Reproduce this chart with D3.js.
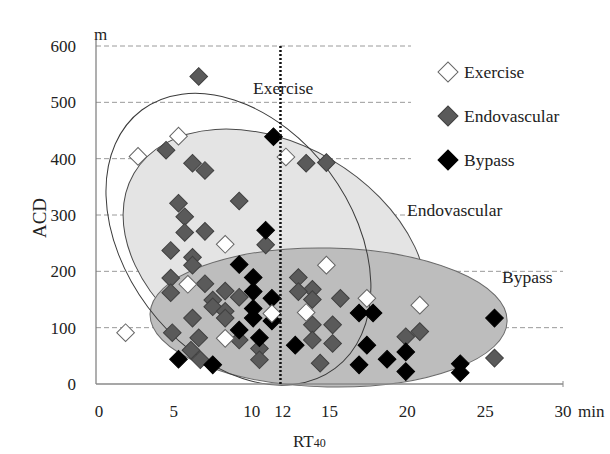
<!DOCTYPE html>
<html>
<head>
<meta charset="utf-8">
<script src="https://cdn.jsdelivr.net/npm/d3@7"></script>
<style>
    body { margin: 0; background: #fff; }
    svg { display: block; font-family: "Liberation Serif", "DejaVu Serif", "Times New Roman", serif; }
</style>
</head>
<body>
<svg width="610" height="454"></svg>
<script>
// --- DATA ---
const seriesNames = ['Exercise', 'Endovascular', 'Bypass'];

const exerciseX = [2.7, 5.3, 1.9, 8.3, 5.9, 8.3, 11.3, 13.5, 14.8, 17.4, 20.8, 12.2];
const exerciseY = [404, 440, 91, 248, 177, 81, 125, 127, 211, 152, 140, 403];

const endoX = [6.6, 4.5, 6.2, 7.0, 5.3, 9.2, 5.7, 5.7, 7.0, 4.8, 6.2, 6.2, 4.8, 7.0, 4.8,
    8.3, 7.5, 9.2, 7.5, 8.3, 8.3, 6.2, 4.9, 6.6, 9.2, 10.5, 6.1, 6.7, 10.5, 10.9,
    13.0, 13.9, 13.0, 13.9, 15.7, 13.9, 15.2, 13.9, 15.2, 14.4, 19.9, 20.8, 13.5, 14.8, 25.6];
const endoY = [546, 415, 392, 379, 321, 325, 297, 269, 271, 237, 225, 211, 188, 178, 162,
    165, 149, 154, 137, 129, 117, 117, 91, 82, 78, 63, 60, 43, 43, 247,
    189, 168, 164, 150, 152, 105, 105, 78, 72, 37, 84, 93, 392, 393, 46];

const bypassX = [11.4, 10.9, 9.2, 10.1, 10.1, 11.3, 10.1, 10.1, 11.3, 9.2, 10.5, 7.5,
    5.3, 12.8, 16.9, 17.8, 17.4, 19.9, 18.7, 16.9, 19.9, 25.6, 23.4, 23.4];
const bypassY = [439, 273, 212, 189, 164, 152, 134, 117, 112, 96, 82, 34,
    44, 69, 126, 126, 69, 57, 44, 34, 22, 117, 36, 20];

// ellipses in data units: centre, half extents, and tilt as a correlation
const ellipseCx = [9.15, 11.5, 14.94];
const ellipseCy = [257, 227, 118];
const ellipseHx = [8.51, 9.76, 11.47];
const ellipseHy = [259, 225.5, 123.4];
const ellipseR = [-0.328, -0.323, -0.045];

const xTicks = [0, 5, 10, 12, 15, 20, 25, 30];
const yTicks = [0, 100, 200, 300, 400, 500, 600];
const gridValues = [100, 200, 300, 400, 500, 600];
const refLineX = 11.85;

// --- SETUP ---
const svg = d3.select('svg');
const x = d3.scaleLinear().domain([0, 30]).range([96, 563]);
const y = d3.scaleLinear().domain([0, 600]).range([384, 46]);
const kx = (x(30) - x(0)) / 30;
const ky = (y(0) - y(600)) / 600;

// --- GRID ---
svg.append('g')
    .selectAll('line')
    .data(gridValues)
    .enter().append('line')
    .attr('x1', x(0)).attr('x2', x(30))
    .attr('y1', d => y(d)).attr('y2', d => y(d))
    .attr('stroke', '#9a9a9a')
    .attr('stroke-width', 1)
    .attr('stroke-dasharray', '5,3');

// legend box hides the upper grid on the right
svg.append('rect')
    .attr('x', 411).attr('y', 38)
    .attr('width', 160).attr('height', 184)
    .attr('fill', '#fff');

// --- ELLIPSES ---
function ellipseShape(i) {
    const H = ellipseHx[i] * kx;
    const V = ellipseHy[i] * ky;
    const sxy = -ellipseR[i] * H * V;
    const m = (H * H + V * V) / 2;
    const d = Math.sqrt(((H * H - V * V) / 2) ** 2 + sxy * sxy);
    const l1 = m + d, l2 = m - d;
    const angle = Math.atan2(l1 - H * H, sxy || 1) * 180 / Math.PI;
    return { cx: x(ellipseCx[i]), cy: y(ellipseCy[i]), rx: Math.sqrt(l1), ry: Math.sqrt(l2), angle: sxy ? angle : 0 };
}

const ellipseStyle = [
    { fill: 'none', stroke: '#3a3a3a' },
    { fill: '#e4e4e4', stroke: '#4a4a4a' },
    { fill: '#bdbdbd', stroke: '#6a6a6a' }
];

[1, 2, 0].forEach(i => {
    const e = ellipseShape(i);
    svg.append('ellipse')
        .attr('transform', `translate(${e.cx},${e.cy}) rotate(${e.angle})`)
        .attr('rx', e.rx).attr('ry', e.ry)
        .attr('fill', ellipseStyle[i].fill)
        .attr('stroke', ellipseStyle[i].stroke)
        .attr('stroke-width', 1);
});

// --- AXES ---
svg.append('line')
    .attr('x1', x(0)).attr('x2', x(0))
    .attr('y1', y(0)).attr('y2', 40)
    .attr('stroke', '#7a7a7a').attr('stroke-width', 1.2);
svg.append('line')
    .attr('x1', x(0)).attr('x2', x(30))
    .attr('y1', y(0)).attr('y2', y(0))
    .attr('stroke', '#8a8a8a').attr('stroke-width', 1.6);
svg.append('line')
    .attr('x1', x(30)).attr('x2', x(30))
    .attr('y1', y(0) - 3).attr('y2', y(0) + 3)
    .attr('stroke', '#8a8a8a').attr('stroke-width', 1);

svg.append('g')
    .selectAll('text')
    .data(yTicks)
    .enter().append('text')
    .attr('x', 76)
    .attr('y', d => y(d) + 6)
    .attr('text-anchor', 'end')
    .attr('font-size', 17)
    .attr('fill', '#222')
    .text(d => d);

svg.append('g')
    .selectAll('text')
    .data(xTicks)
    .enter().append('text')
    .attr('x', d => x(d) + (d === 0 ? 3 : 0))
    .attr('y', 417)
    .attr('text-anchor', 'middle')
    .attr('font-size', 17)
    .attr('fill', '#222')
    .text(d => d);

svg.append('text').attr('x', 578).attr('y', 417).attr('font-size', 17).attr('fill', '#222').text('min');
svg.append('text').attr('x', 94).attr('y', 40).attr('font-size', 17).attr('fill', '#222').text('m');

svg.append('text')
    .attr('transform', 'translate(46,218) rotate(-90)')
    .attr('text-anchor', 'middle')
    .attr('font-size', 19)
    .attr('fill', '#222')
    .text('ACD');

const rt = svg.append('text').attr('x', 293).attr('y', 447).attr('font-size', 17).attr('fill', '#222');
rt.append('tspan').text('RT');
rt.append('tspan').attr('font-size', 12).text('40');

// --- POINTS ---
const diamond = d3.symbol().type(d3.symbolSquare).size(156);
const legendDiamond = d3.symbol().type(d3.symbolSquare).size(200);
const pointStyle = [
    { fill: '#ffffff', stroke: '#666666' },
    { fill: '#5a5a5a', stroke: '#404040' },
    { fill: '#000000', stroke: '#000000' }
];
const seriesX = [exerciseX, endoX, bypassX];
const seriesY = [exerciseY, endoY, bypassY];

[1, 2, 0].forEach(i => {
    svg.append('g')
        .selectAll('path')
        .data(d3.range(seriesX[i].length))
        .enter().append('path')
        .attr('d', diamond)
        .attr('transform', j => `translate(${x(seriesX[i][j])},${y(seriesY[i][j])}) rotate(45)`)
        .attr('fill', pointStyle[i].fill)
        .attr('stroke', pointStyle[i].stroke)
        .attr('stroke-width', 1);
});

// --- REFERENCE LINE ---
svg.append('line')
    .attr('x1', x(refLineX)).attr('x2', x(refLineX))
    .attr('y1', y(600)).attr('y2', y(0))
    .attr('stroke', '#111')
    .attr('stroke-width', 2.5)
    .attr('stroke-dasharray', '2,2');

// --- LABELS ---
svg.append('text').attr('x', 253).attr('y', 94).attr('font-size', 17.5).attr('fill', '#222').text('Exercise');
svg.append('text').attr('x', 407).attr('y', 216).attr('font-size', 17.5).attr('fill', '#222').text('Endovascular');
svg.append('text').attr('x', 502).attr('y', 283).attr('font-size', 17.5).attr('fill', '#222').text('Bypass');

// --- LEGEND ---
const legendY = [72, 116, 160];
seriesNames.forEach((name, i) => {
    svg.append('path')
        .attr('d', legendDiamond)
        .attr('transform', `translate(448,${legendY[i]}) rotate(45)`)
        .attr('fill', pointStyle[i].fill)
        .attr('stroke', pointStyle[i].stroke)
        .attr('stroke-width', 1);
    svg.append('text')
        .attr('x', 464)
        .attr('y', legendY[i] + 6)
        .attr('font-size', 17.5)
        .attr('fill', '#222')
        .text(name);
});
</script>
</body>
</html>
